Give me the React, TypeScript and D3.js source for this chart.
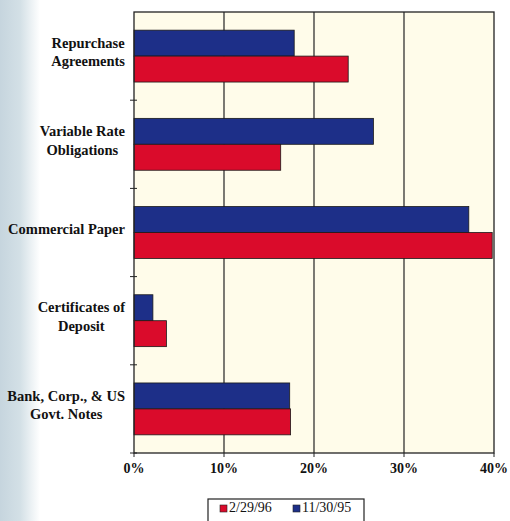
import React from "react";
import * as d3 from "d3";

// Portfolio composition by security type, percent of net assets
const categories = [
  "Repurchase Agreements",
  "Variable Rate Obligations",
  "Commercial Paper",
  "Certificates of Deposit",
  "Bank, Corp., & US Govt. Notes",
];
const categoryLines = [
  ["Repurchase", "Agreements"],
  ["Variable Rate", "Obligations"],
  ["Commercial Paper"],
  ["Certificates of", "Deposit"],
  ["Bank, Corp., & US", "Govt. Notes"],
];
const seriesNames = ["11/30/95", "2/29/96"];
const values953 = [17.8, 26.6, 37.2, 2.1, 17.3]; // 11/30/95
const values962 = [23.8, 16.3, 39.8, 3.6, 17.4]; // 2/29/96
const xTicks = [0, 10, 20, 30, 40];
const legendOrder = ["2/29/96", "11/30/95"];

const W = 510;
const H = 521;
const plot = { left: 134, right: 494, top: 12, bottom: 453 };
const colors: Record<string, string> = { "11/30/95": "#1d2f88", "2/29/96": "#da0b2b" };
const serif = "'Liberation Serif', 'DejaVu Serif', serif";
const labelFont = `bold 14.5px ${serif}`;

// width of a label line, for laying out the centred label blocks flush to the axis
let ctx: CanvasRenderingContext2D | null = null;
function textWidth(s: string): number {
  if (!ctx) ctx = document.createElement("canvas").getContext("2d");
  if (!ctx) return s.length * 7;
  ctx.font = labelFont;
  return ctx.measureText(s).width;
}

export default function App() {
  const x = d3.scaleLinear().domain([0, 40]).range([plot.left, plot.right]);
  const y = d3.scaleBand<string>().domain(categories).range([plot.top, plot.bottom]);
  const inner = d3
    .scaleBand<string>()
    .domain(seriesNames)
    .range([0, y.bandwidth()])
    .paddingInner(0)
    .paddingOuter(0.7);
  const seriesValues: Record<string, number[]> = { "11/30/95": values953, "2/29/96": values962 };
  const boundaries = categories.slice(1).map((c) => y(c) as number).concat([plot.bottom]);

  return (
    <svg
      width={W}
      height={H}
      style={{ position: "absolute", left: 0, top: 0, background: "#ffffff" }}
    >
      <defs>
        <linearGradient id="edge" x1="0" x2="1" y1="0" y2="0">
          <stop offset="0" stopColor="#c6d5de" />
          <stop offset="0.5" stopColor="#d3e0e6" />
          <stop offset="1" stopColor="#ffffff" />
        </linearGradient>
      </defs>
      <rect x={0} y={0} width={40} height={H} fill="url(#edge)" />

      {/* plot area */}
      <rect
        x={plot.left}
        y={plot.top}
        width={plot.right - plot.left}
        height={plot.bottom - plot.top}
        fill="#fffcea"
      />
      {xTicks.slice(1, -1).map((t) => (
        <line key={t} x1={x(t)} x2={x(t)} y1={plot.top} y2={plot.bottom} stroke="#222" strokeWidth={1.2} />
      ))}

      {/* bars */}
      {categories.map((c, i) =>
        seriesNames.map((s) => (
          <rect
            key={c + s}
            x={x(0)}
            y={(y(c) as number) + (inner(s) as number)}
            width={x(seriesValues[s][i]) - x(0)}
            height={inner.bandwidth()}
            fill={colors[s]}
            stroke="#1a1a1a"
            strokeWidth={0.8}
          />
        ))
      )}

      {/* frame */}
      <rect
        x={plot.left}
        y={plot.top}
        width={plot.right - plot.left}
        height={plot.bottom - plot.top}
        fill="none"
        stroke="#222"
        strokeWidth={1.3}
      />

      {/* category ticks */}
      {boundaries.map((b, i) => (
        <line key={i} x1={plot.left - 4} x2={plot.left + 3} y1={b} y2={b} stroke="#222" strokeWidth={1} />
      ))}
      {/* value ticks */}
      {xTicks.map((t) => (
        <line key={t} x1={x(t)} x2={x(t)} y1={plot.bottom} y2={plot.bottom + 4} stroke="#222" strokeWidth={1} />
      ))}
      {xTicks.map((t) => (
        <text
          key={t}
          x={x(t)}
          y={473}
          textAnchor="middle"
          fontFamily={serif}
          fontWeight="bold"
          fontSize={14}
          fill="#111"
        >
          {t}%
        </text>
      ))}

      {/* category labels: each block centred, right edge flush near the axis */}
      {categories.map((c, i) => {
        const lines = categoryLines[i];
        const widest = Math.max(...lines.map(textWidth));
        const cx = plot.left - 9 - widest / 2;
        const cy = (y(c) as number) + y.bandwidth() / 2 - 4;
        const lh = 18.5;
        const start = cy - ((lines.length - 1) * lh) / 2;
        return (
          <text
            key={c}
            textAnchor="middle"
            fontFamily={serif}
            fontWeight="bold"
            fontSize={14.5}
            fill="#111"
          >
            {lines.map((l, j) => (
              <tspan key={j} x={cx} y={start + j * lh + 5}>
                {l}
              </tspan>
            ))}
          </text>
        );
      })}

      {/* legend */}
      <rect x={208} y={499} width={156} height={30} fill="#fff" stroke="#222" strokeWidth={1.2} />
      {legendOrder.map((s, i) => {
        const lx = i === 0 ? 220 : 293;
        return (
          <g key={s}>
            <rect x={lx} y={505} width={7} height={7} fill={colors[s]} stroke="#222" strokeWidth={0.6} />
            <text x={lx + 9} y={512} fontFamily={serif} fontSize={14} fill="#111">
              {s}
            </text>
          </g>
        );
      })}
    </svg>
  );
}
